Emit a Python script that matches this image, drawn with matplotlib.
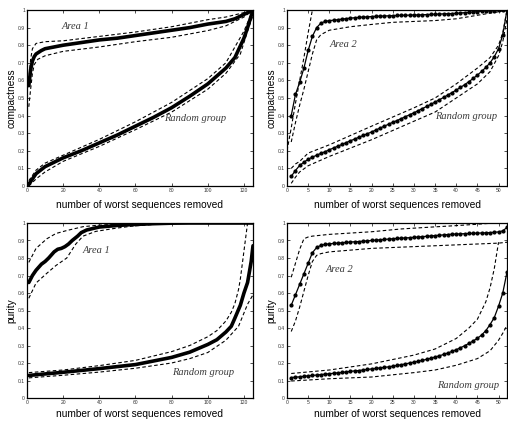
import matplotlib
matplotlib.use("Agg")
import matplotlib.pyplot as plt
from matplotlib.ticker import FormatStrFormatter, MultipleLocator

plt.rcParams['font.family'] = ['Liberation Sans', 'DejaVu Sans']

# ---------------- 数据 ----------------
# 左侧两图: 横轴 0..125
x_a1_comp = [1, 2, 3, 4, 5, 8, 10, 15, 20, 30, 40, 50, 60, 70, 80, 90, 100, 110, 115, 120, 125]
area1_comp = [0.57, 0.66, 0.71, 0.735, 0.75, 0.77, 0.78, 0.79, 0.80, 0.815, 0.83, 0.84, 0.855, 0.87,
              0.885, 0.90, 0.92, 0.935, 0.95, 0.975, 1.0]
x_a1_comp_up = [1, 2, 3, 5, 10, 20, 40, 60, 80, 100, 110, 120, 125]
area1_comp_up = [0.60, 0.72, 0.78, 0.81, 0.82, 0.825, 0.85, 0.875, 0.905, 0.945, 0.96, 0.985, 1.0]
x_a1_comp_lo = [1, 2, 3, 4, 6, 10, 20, 40, 60, 80, 100, 110, 120, 125]
area1_comp_lo = [0.45, 0.55, 0.64, 0.69, 0.72, 0.74, 0.765, 0.79, 0.82, 0.845, 0.883, 0.91, 0.96, 1.0]

x_rnd_comp = [1, 3, 5, 10, 20, 30, 40, 50, 60, 70, 80, 90, 100, 110, 115, 120, 122, 125]
rnd_comp = [0.01, 0.04, 0.07, 0.11, 0.16, 0.20, 0.245, 0.29, 0.34, 0.39, 0.445, 0.51, 0.58, 0.67,
            0.73, 0.84, 0.90, 1.0]
x_rnd_comp_up = [1, 5, 10, 20, 40, 60, 80, 100, 110, 120, 125]
rnd_comp_up = [0.03, 0.09, 0.13, 0.175, 0.265, 0.365, 0.475, 0.61, 0.70, 0.88, 1.0]
x_rnd_comp_lo = [1, 5, 10, 20, 40, 60, 80, 100, 110, 118, 122, 125]
rnd_comp_lo = [0.0, 0.04, 0.08, 0.14, 0.225, 0.32, 0.42, 0.55, 0.64, 0.75, 0.88, 0.97]

x_a1_pur = [1, 3, 5, 8, 10, 12, 15, 17, 19, 21, 23, 25, 28, 30, 33, 37, 40, 50, 60, 70, 80, 90, 125]
area1_pur = [0.66, 0.70, 0.73, 0.765, 0.78, 0.80, 0.835, 0.85, 0.855, 0.865, 0.88, 0.90, 0.925, 0.945,
             0.96, 0.97, 0.977, 0.986, 0.992, 0.996, 0.999, 1.0, 1.0]
x_a1_pur_up = [1, 5, 11, 16, 22, 31, 40, 55, 70, 125]
area1_pur_up = [0.775, 0.855, 0.91, 0.94, 0.957, 0.979, 0.988, 0.996, 1.0, 1.0]
x_a1_pur_lo = [1, 5, 11, 16, 22, 27, 31, 38, 49, 58, 68, 80, 125]
area1_pur_lo = [0.57, 0.657, 0.713, 0.757, 0.80, 0.88, 0.925, 0.952, 0.97, 0.982, 0.99, 1.0, 1.0]

x_rnd_pur = [1, 20, 40, 60, 80, 90, 100, 105, 110, 113, 115, 118, 120, 122, 123, 124, 125]
rnd_pur = [0.129, 0.147, 0.168, 0.191, 0.232, 0.262, 0.306, 0.333, 0.377, 0.41, 0.457, 0.53, 0.60,
           0.66, 0.72, 0.78, 0.87]
x_rnd_pur_up = [1, 20, 40, 60, 80, 90, 100, 105, 110, 113, 115, 117, 118, 119, 120, 121, 122]
rnd_pur_up = [0.145, 0.16, 0.185, 0.215, 0.265, 0.30, 0.35, 0.385, 0.44, 0.49, 0.54, 0.62, 0.68,
              0.76, 0.84, 0.92, 1.0]
x_rnd_pur_lo = [1, 20, 40, 60, 80, 90, 100, 110, 117, 122, 125]
rnd_pur_lo = [0.115, 0.13, 0.148, 0.17, 0.20, 0.225, 0.26, 0.33, 0.41, 0.536, 0.59]

# 右侧两图: 横轴 1..52, 每点一个标记
x52 = list(range(1, 53))
area2_comp = [0.40, 0.52, 0.59, 0.67, 0.77, 0.85, 0.90, 0.925, 0.935, 0.94,
              0.942, 0.945, 0.948, 0.951, 0.954, 0.956, 0.958, 0.96, 0.961, 0.963,
              0.964, 0.965, 0.966, 0.967, 0.968, 0.969, 0.97, 0.97, 0.971, 0.972,
              0.972, 0.973, 0.974, 0.975, 0.976, 0.977, 0.978, 0.979, 0.98, 0.981,
              0.983, 0.985, 0.987, 0.989, 0.991, 0.993, 0.995, 0.996, 0.997, 0.998, 0.999, 1.0]
rnd2_comp = [0.055, 0.088, 0.117, 0.135, 0.152, 0.164, 0.175, 0.185, 0.195, 0.206,
             0.216, 0.226, 0.236, 0.247, 0.257, 0.267, 0.277, 0.287, 0.297, 0.307,
             0.318, 0.329, 0.34, 0.351, 0.362, 0.372, 0.383, 0.394, 0.405, 0.416,
             0.428, 0.44, 0.452, 0.464, 0.477, 0.49, 0.503, 0.517, 0.531, 0.545,
             0.56, 0.576, 0.593, 0.611, 0.63, 0.651, 0.674, 0.70, 0.735, 0.78, 0.86, 1.0]
area2_pur = [0.53, 0.59, 0.65, 0.71, 0.77, 0.83, 0.86, 0.872, 0.878, 0.881,
             0.883, 0.885, 0.887, 0.889, 0.891, 0.893, 0.894, 0.896, 0.898, 0.90,
             0.902, 0.904, 0.906, 0.908, 0.91, 0.912, 0.913, 0.915, 0.916, 0.918,
             0.92, 0.922, 0.924, 0.926, 0.928, 0.93, 0.932, 0.934, 0.936, 0.937,
             0.938, 0.939, 0.94, 0.941, 0.942, 0.943, 0.944, 0.945, 0.947, 0.949, 0.955, 0.975]
rnd2_pur = [0.117, 0.119, 0.121, 0.124, 0.127, 0.129, 0.131, 0.134, 0.136, 0.139,
            0.141, 0.144, 0.146, 0.149, 0.152, 0.155, 0.157, 0.16, 0.163, 0.166,
            0.169, 0.172, 0.175, 0.178, 0.182, 0.186, 0.19, 0.195, 0.2, 0.205,
            0.21, 0.215, 0.221, 0.227, 0.234, 0.241, 0.249, 0.257, 0.266, 0.276,
            0.287, 0.299, 0.312, 0.326, 0.341, 0.36, 0.385, 0.42, 0.46, 0.525, 0.60, 0.72]

# 右侧虚线 (置信带)
x_a2_comp_up = [0, 1, 2, 3, 4, 5, 6, 52]
area2_comp_up = [0.20, 0.33, 0.47, 0.60, 0.73, 0.87, 1.0, 1.0]
x_a2_comp_lo = [1, 2, 3, 4, 5, 6, 7, 8, 10, 15, 20, 25, 30, 35, 40, 45, 50, 52]
area2_comp_lo = [0.25, 0.36, 0.46, 0.55, 0.65, 0.75, 0.83, 0.86, 0.885, 0.905, 0.918, 0.93,
                 0.935, 0.94, 0.95, 0.97, 0.99, 1.0]
x_r2_comp_up = [1, 2, 3, 5, 10, 20, 30, 35, 40, 45, 48, 50, 51, 52]
rnd2_comp_up = [0.10, 0.125, 0.14, 0.187, 0.234, 0.34, 0.444, 0.50, 0.58, 0.67, 0.73, 0.80, 0.87, 1.0]
x_r2_comp_lo = [1, 2, 3, 5, 10, 20, 30, 35, 40, 45, 48, 50, 51, 52]
rnd2_comp_lo = [0.015, 0.05, 0.08, 0.115, 0.168, 0.263, 0.368, 0.42, 0.50, 0.58, 0.65, 0.74, 0.82, 0.95]

x_a2_pur_up = [1, 2, 3, 4, 5, 6, 10, 20, 27, 35, 40, 45, 49, 52]
area2_pur_up = [0.69, 0.77, 0.85, 0.91, 0.92, 0.925, 0.935, 0.95, 0.966, 0.978, 0.985, 0.993, 1.0, 1.0]
x_a2_pur_lo = [1, 2, 3, 4, 5, 6, 7, 8, 10, 15, 20, 30, 40, 50, 52]
area2_pur_lo = [0.38, 0.44, 0.52, 0.61, 0.70, 0.78, 0.815, 0.825, 0.835, 0.845, 0.855, 0.865,
                0.875, 0.885, 0.89]
x_r2_pur_up = [1, 10, 20, 30, 35, 40, 43, 45, 47, 48, 49, 50]
rnd2_pur_up = [0.14, 0.16, 0.195, 0.245, 0.28, 0.34, 0.40, 0.45, 0.55, 0.63, 0.74, 0.89]
x_r2_pur_lo = [1, 10, 20, 30, 35, 40, 45, 48, 50, 51, 52]
rnd2_pur_lo = [0.097, 0.11, 0.12, 0.145, 0.16, 0.187, 0.225, 0.27, 0.33, 0.37, 0.415]

XLABEL = 'number of worst sequences removed'
TXT_STYLE = dict(fontsize=7.5, style='italic', color='#3a3a3a',
                 family=['Liberation Serif', 'DejaVu Serif'])
DASH = dict(color='black', lw=0.8, dashes=(3.2, 2.2))


def style_axes(ax, xmax, xstep, ylabel, xpad):
    ax.set_xlim(0, xmax)
    ax.set_ylim(0, 1)
    ax.xaxis.set_major_locator(MultipleLocator(xstep))
    ax.yaxis.set_major_locator(MultipleLocator(0.1))
    ax.yaxis.set_major_formatter(FormatStrFormatter('%g'))
    ax.tick_params(direction='in', top=True, right=True, length=2, width=0.6,
                   labelsize=3.6, pad=1.5, colors='#333333')
    for sp in ax.spines.values():
        sp.set_linewidth(0.9)
    ax.set_xlabel(XLABEL, fontsize=7.3, labelpad=xpad)
    ax.set_ylabel(ylabel, fontsize=7.3, labelpad=1)


fig = plt.figure(figsize=(5.08, 4.23), dpi=100)
W, H = 508.0, 423.0
ax1 = fig.add_axes([27 / W, (H - 186) / H, 226 / W, 176 / H])
ax2 = fig.add_axes([287 / W, (H - 186) / H, 220 / W, 176 / H])
ax3 = fig.add_axes([27 / W, (H - 398) / H, 226 / W, 175 / H])
ax4 = fig.add_axes([287 / W, (H - 398) / H, 220 / W, 175 / H])

# 1. compactness, Area 1
ax1.plot(x_a1_comp, area1_comp, color='black', lw=2.6, solid_capstyle='round')
ax1.plot(x_a1_comp_up, area1_comp_up, **DASH)
ax1.plot(x_a1_comp_lo, area1_comp_lo, **DASH)
ax1.plot(x_rnd_comp, rnd_comp, color='black', lw=2.6, solid_capstyle='round')
ax1.plot(x_rnd_comp_up, rnd_comp_up, **DASH)
ax1.plot(x_rnd_comp_lo, rnd_comp_lo, **DASH)
ax1.text(19, 0.89, 'Area 1', **TXT_STYLE)
ax1.text(76, 0.37, 'Random group', **TXT_STYLE)
style_axes(ax1, 125, 20, 'compactness', 5)

# 2. compactness, Area 2
ax2.plot(x52, area2_comp, color='black', lw=0.9, marker='o', ms=2.0)
ax2.plot(x_a2_comp_up, area2_comp_up, **DASH)
ax2.plot(x_a2_comp_lo, area2_comp_lo, **DASH)
ax2.plot(x52, rnd2_comp, color='black', lw=0.9, marker='o', ms=2.0)
ax2.plot(x_r2_comp_up, rnd2_comp_up, **DASH)
ax2.plot(x_r2_comp_lo, rnd2_comp_lo, **DASH)
ax2.text(10, 0.79, 'Area 2', **TXT_STYLE)
ax2.text(35, 0.38, 'Random group', **TXT_STYLE)
style_axes(ax2, 52, 5, 'compactness', 5)

# 3. purity, Area 1
ax3.plot(x_a1_pur, area1_pur, color='black', lw=2.6, solid_capstyle='round')
ax3.plot(x_a1_pur_up, area1_pur_up, **DASH)
ax3.plot(x_a1_pur_lo, area1_pur_lo, **DASH)
ax3.plot(x_rnd_pur, rnd_pur, color='black', lw=2.6, solid_capstyle='round')
ax3.plot(x_rnd_pur_up, rnd_pur_up, **DASH)
ax3.plot(x_rnd_pur_lo, rnd_pur_lo, **DASH)
ax3.text(31, 0.83, 'Area 1', **TXT_STYLE)
ax3.text(80, 0.13, 'Random group', **TXT_STYLE)
style_axes(ax3, 125, 20, 'purity', 3)

# 4. purity, Area 2
ax4.plot(x52, area2_pur, color='black', lw=0.9, marker='o', ms=2.0)
ax4.plot(x_a2_pur_up, area2_pur_up, **DASH)
ax4.plot(x_a2_pur_lo, area2_pur_lo, **DASH)
ax4.plot(x52, rnd2_pur, color='black', lw=0.9, marker='o', ms=2.0)
ax4.plot(x_r2_pur_up, rnd2_pur_up, **DASH)
ax4.plot(x_r2_pur_lo, rnd2_pur_lo, **DASH)
ax4.text(9, 0.72, 'Area 2', **TXT_STYLE)
ax4.text(35.5, 0.055, 'Random group', **TXT_STYLE)
style_axes(ax4, 52, 5, 'purity', 3)

fig.savefig('out.png', dpi=100)
plt.close(fig)
